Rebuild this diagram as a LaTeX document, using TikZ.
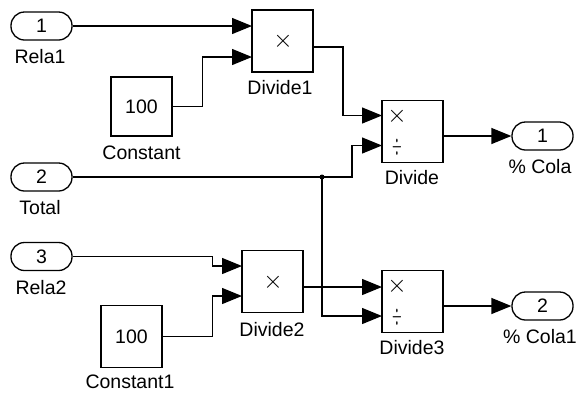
\documentclass[tikz,border=0pt]{standalone}
\usepackage{fontspec}
\usepackage{graphicx}
\setmainfont{Liberation Sans}
\usetikzlibrary{arrows.meta}
\begin{document}
\begin{tikzpicture}[x=1pt,y=-1pt,
  blk/.style={draw, line width=1.3pt, minimum width=61pt, minimum height=62pt, inner sep=0pt, font=\fontsize{19.5}{22}\selectfont},
  port/.style={draw, line width=1.3pt, rounded corners=13.5pt, minimum width=61pt, minimum height=28pt, inner sep=0pt, font=\fontsize{19.5}{22}\selectfont},
  lbl/.style={font=\fontsize{19.5}{22}\selectfont, inner sep=0pt},
  opx/.style={font=\fontsize{28}{30}\selectfont, inner sep=0pt},
  opd/.style={font=\fontsize{20}{22}\selectfont, inner sep=0pt},
  wire/.style={line width=1.3pt},
  sig/.style={wire, -{Triangle[length=20pt,width=16pt]}},
]
\useasboundingbox (0,0) rectangle (578,392);

% inports
\node[port] (p1) at (41.5,26) {1};
\node[lbl] (l1) at (40,57) {Rela1};
\node[port] (p2) at (41.5,177) {2};
\node[lbl] (l2) at (40,208) {Total};
\node[port] (p3) at (41.5,256.5) {3};
\node[lbl] (l3) at (41,288) {Rela2};

% constants
\node[blk, minimum height=59pt] (c1) at (141.5,106.5) {100};
\node[lbl] (lc1) at (141.5,153) {Constant};
\node[blk] (c2) at (131.5,336.5) {100};
\node[lbl] (lc2) at (130,382) {Constant1};

% product blocks
\node[blk] (d1) at (282.5,41) {};
\node[opx] (d1x) at (283,41) {$\times$};
\node[lbl] (ld1) at (280,88) {Divide1};

\node[blk] (d2) at (272.5,281.5) {};
\node[opx] (d2x) at (273,282) {$\times$};
\node[lbl] (ld2) at (272,330) {Divide2};

\node[blk] (d) at (412.5,131.5) {};
\node[opx] (dx) at (397,116) {$\times$};
\node[opd] (dd) at (397,147) {\scalebox{0.6}[1.4]{$\div$}};
\node[lbl] (ld) at (412,178) {Divide};

\node[blk] (d3) at (412.5,301.5) {};
\node[opx] (d3x) at (397,286) {$\times$};
\node[opd] (d3d) at (397,317) {\scalebox{0.6}[1.4]{$\div$}};
\node[lbl] (ld3) at (412,348) {Divide3};

% outports
\node[port] (o1) at (542.5,136) {1};
\node[lbl] (lo1) at (540,167) {\% Cola};
\node[port] (o2) at (542.5,306) {2};
\node[lbl] (lo2) at (540,337) {\% Cola1};

% port coordinates
\coordinate (d1a) at (252,26);
\coordinate (d1b) at (252,57);
\coordinate (d1o) at (313,47);
\coordinate (da) at (382,115.5);
\coordinate (db) at (382,145.5);
\coordinate (do) at (443,136);
\coordinate (d2a) at (242,266);
\coordinate (d2b) at (242,296);
\coordinate (d2o) at (303,287);
\coordinate (d3a) at (382,287);
\coordinate (d3b) at (382,316);
\coordinate (d3o) at (443,306);
\coordinate (j) at (322,177);

% wires
\draw[sig] (p1.east) -- (d1a);
\draw[sig] (c1.east) -- ++(30,0) |- (d1b);
\draw[sig] (d1o) -- ++(30,0) |- (da);
\draw[wire] (p2.east) -- (j);
\draw[sig] (j) -- ++(30,0) |- (db);
\draw[sig] (j) |- (d3b);
\fill (j) circle (2.5);
\draw[sig] (p3.east) -- ++(140,0) |- (d2a);
\draw[sig] (c2.east) -- ++(50,0) |- (d2b);
\draw[sig] (d2o) -- (d3a);
\draw[sig] (do) -- (o1.west);
\draw[sig] (d3o) -- (o2.west);
\end{tikzpicture}
\end{document}
